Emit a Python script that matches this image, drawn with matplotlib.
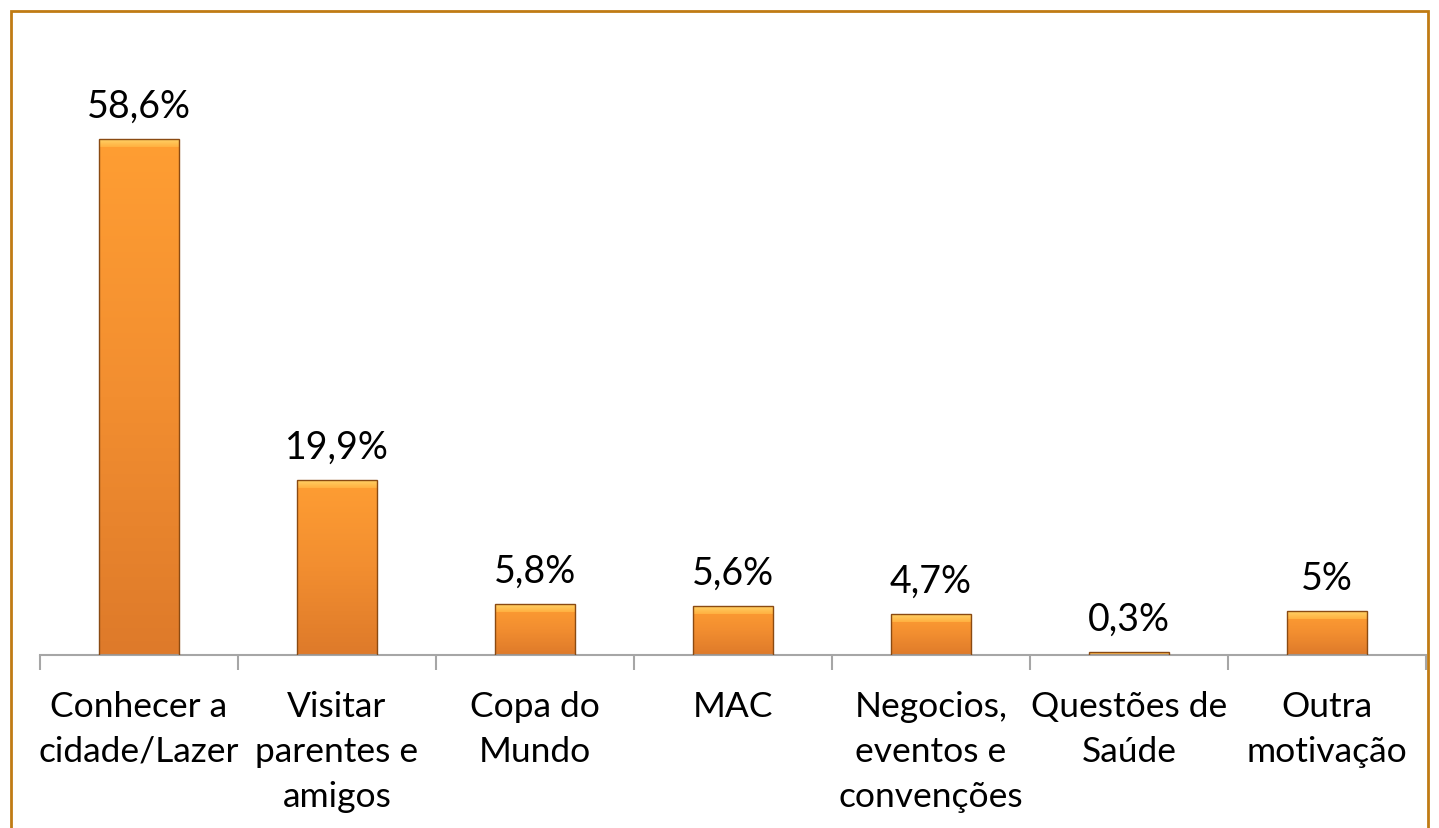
import numpy as np
from matplotlib import pyplot as plt
from matplotlib import rcParams
from matplotlib.patches import Rectangle
from matplotlib.colors import LinearSegmentedColormap

rcParams['font.family'] = ['Lato', 'DejaVu Sans']

categorias = ['Conhecer a\ncidade/Lazer', 'Visitar\nparentes e\namigos', 'Copa do\nMundo', 'MAC',
              'Negocios,\neventos e\nconvenções', 'Questões de\nSaúde', 'Outra\nmotivação']
valores = [58.6, 19.9, 5.8, 5.6, 4.7, 0.3, 5.0]
rotulos = ['58,6%', '19,9%', '5,8%', '5,6%', '4,7%', '0,3%', '5%']

W, H = 1439, 829
fig = plt.figure(figsize=(W / 100, H / 100), dpi=100)
ax = fig.add_axes([40 / W, 1 - 656 / H, 1386 / W, 616 / H])

# moldura laranja do gráfico (continua para baixo da figura)
fig.patches.append(Rectangle((11 / W, -0.1), 1417 / W, 1.1 - 12 / H, transform=fig.transFigure,
                             fill=False, edgecolor='#C07B14', linewidth=2))

x = np.arange(len(valores))
bars = ax.bar(x, valores, width=0.4, color='none', edgecolor='#8A4A12', linewidth=1.0, zorder=3)

cmap = LinearSegmentedColormap.from_list('lar', ['#DE7A2A', '#F28E30', '#FF9E33'])
grad = np.linspace(0, 1, 256).reshape(-1, 1)
bevel_cmap = LinearSegmentedColormap.from_list('bev', ['#FFB040', '#FFD266'])
for b, v in zip(bars, valores):
    x0 = b.get_x()
    w = b.get_width()
    im = ax.imshow(grad, cmap=cmap, aspect='auto', origin='lower',
                   extent=[x0, x0 + w, 0, v], zorder=2)
    im.set_clip_path(b)
    # bisel claro no topo
    bev = min(0.9, v * 0.5)
    ax.imshow(grad, cmap=bevel_cmap, aspect='auto', origin='lower',
              extent=[x0, x0 + w, v - bev, v], zorder=2.5)

for xi, v, r in zip(x, valores, rotulos):
    ax.annotate(r, (xi, v), xytext=(0, 11), textcoords='offset points',
                ha='center', va='bottom', fontsize=27)

ax.set_xlim(-0.5, len(valores) - 0.5)
ax.set_ylim(0, 70)
ax.set_xticks(x)
ax.set_xticklabels(categorias, fontsize=25.5, linespacing=1.5, va='top')
ax.set_xticks(np.arange(len(valores) + 1) - 0.5, minor=True)
ax.tick_params(axis='x', which='major', length=0, pad=25)
ax.tick_params(axis='x', which='minor', length=11, width=1.5, color='#A6A6A6', direction='out')
ax.set_yticks([])
for s in ['top', 'right', 'left']:
    ax.spines[s].set_visible(False)
ax.spines['bottom'].set_color('#A6A6A6')
ax.spines['bottom'].set_linewidth(1.5)
ax.patch.set_alpha(0)

plt.savefig('out.png', dpi=100)
